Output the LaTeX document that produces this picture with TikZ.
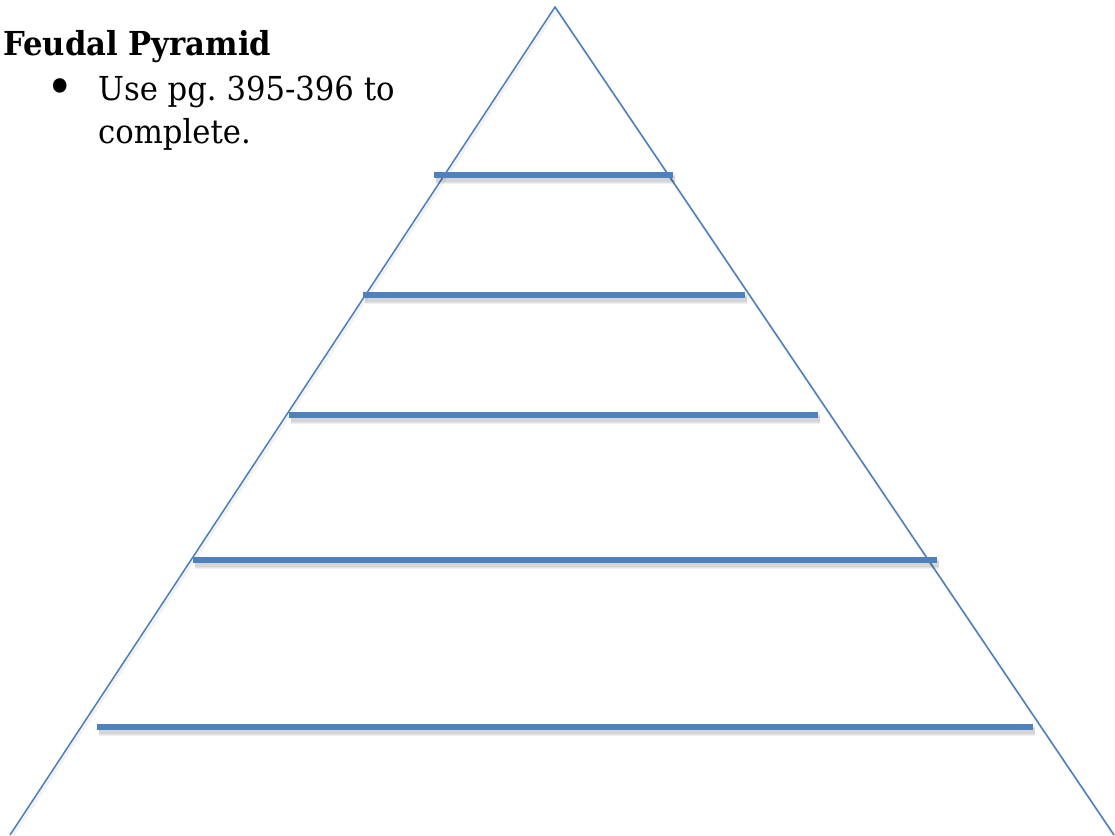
\documentclass[tikz,border=0pt]{standalone}
\usepackage{fontspec}
\setmainfont{DejaVu Serif}[FakeStretch=0.93]
\frenchspacing
\begin{document}
\begin{tikzpicture}[x=1pt,y=-1pt,
  side/.style={draw=tri,line width=1.5pt},
  bar/.style={draw=barc,line width=6pt},
  barshadow/.style={draw=black,opacity=0.06},
  txt/.style={inner sep=0pt,anchor=base west,font=\fontsize{33}{43}\selectfont}]
\definecolor{tri}{HTML}{4A7EBB}
\definecolor{barc}{HTML}{4F81BD}
\useasboundingbox (0,0) rectangle (1115,835);
\coordinate (apex) at (555,7);
\coordinate (bl) at (10,835);
\coordinate (br) at (1114,835);
% shadows of triangle
\draw[draw=black,opacity=0.05,line width=3pt] ([shift={(1.5,2.5)}]bl) -- ([shift={(1.5,2.5)}]apex) -- ([shift={(1.5,2.5)}]br);
\draw[side] (bl) -- (apex) -- (br);
% bars
\foreach \n/\y/\xa/\xb in {1/175/434/673, 2/295/363/745, 3/415/289/818, 4/560/193/937, 5/727/97/1033}{
  \coordinate (b\n l) at (\xa,\y);
  \coordinate (b\n r) at (\xb,\y);
  \foreach \w in {10,8,6}{
    \draw[barshadow,line width=\w pt] ([shift={(2,4)}]b\n l) -- ([shift={(2,4)}]b\n r);
  }
  \draw[bar] (b\n l) -- (b\n r);
}
\node[txt,font=\fontsize{33}{43}\selectfont\bfseries] (title) at (3,55) {Feudal Pyramid};
\node[inner sep=0pt,anchor=base,font=\fontsize{50}{50}\selectfont] (bullet) at (60,104) {•};
\node[txt] (line1) at (98,100) {Use pg. 395-396 to};
\node[txt] (line2) at (98,143) {complete.};
\end{tikzpicture}
\end{document}
